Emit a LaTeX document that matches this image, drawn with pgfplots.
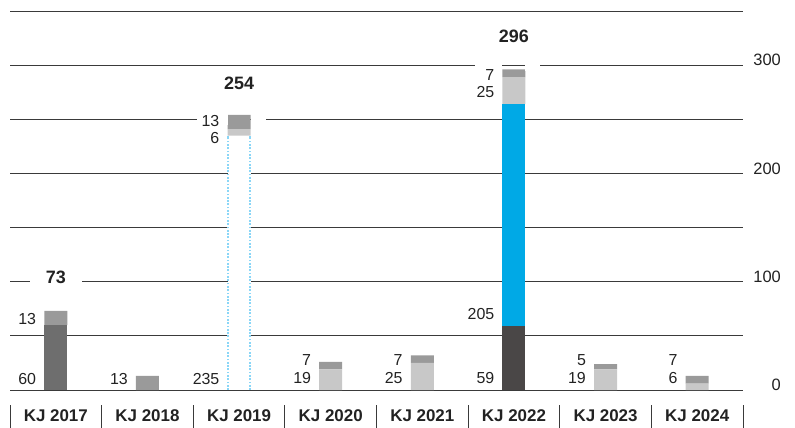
\documentclass[border=0pt]{standalone}
\usepackage{pgfplots}
\pgfplotsset{compat=1.18}
\usepackage{fontspec}
\setmainfont{Liberation Sans}
\definecolor{dkA}{HTML}{6E6E6E}
\definecolor{dkB}{HTML}{4A4747}
\definecolor{grM}{HTML}{9A9A9A}
\definecolor{grL}{HTML}{C8C8C8}
\definecolor{blu}{HTML}{00A9E6}
\definecolor{dotb}{HTML}{8AD6F7}
\definecolor{gridc}{HTML}{3A3A3A}
\definecolor{txt}{HTML}{222222}
\newcommand\vfont{\fontsize{16}{18}\selectfont}
\newcommand\tfont{\fontsize{18}{20}\bfseries\selectfont}
\newcommand\vl[2]{\node[anchor=east, inner sep=0pt, font=\vfont, text=txt] at ([xshift=-19.5bp]#1) {#2};}
\begin{document}
\begin{tikzpicture}
\useasboundingbox (-10bp,-38bp) rectangle (785bp,390bp);
\begin{axis}[
  at={(0,0)}, anchor=south west,
  scale only axis, width=733bp, height=379bp,
  xmin=-0.5, xmax=7.5, ymin=0, ymax=350,
  ybar stacked, bar width=23bp,
  axis line style={draw=none},
  major tick length=0pt, minor tick length=0pt,
  ytick={0,100,200,300}, minor ytick={50,150,250,350},
  ymajorgrids, yminorgrids,
  major grid style={gridc, line width=0.9bp},
  minor grid style={gridc, line width=0.9bp},
  yticklabel pos=right,
  yticklabel style={anchor=east, inner sep=0pt, xshift=38bp, yshift=5bp, font=\fontsize{16.5}{18}\selectfont, text=txt},
  xtick={0,...,7},
  xticklabels={KJ 2017,KJ 2018,KJ 2019,KJ 2020,KJ 2021,KJ 2022,KJ 2023,KJ 2024},
  xticklabel style={anchor=center, inner sep=0pt, yshift=-26bp, font=\fontsize{17}{19}\bfseries\selectfont, text=txt},
  /pgf/number format/assume math mode=true,
  clip=false,
]
\addplot[fill=dkA, draw=none] coordinates {(0,60)(1,0)(2,0)(3,0)(4,0)(5,0)(6,0)(7,0)};
\addplot[fill=dkB, draw=none] coordinates {(0,0)(1,0)(2,0)(3,0)(4,0)(5,59)(6,0)(7,0)};
\addplot[fill=white, draw=none] coordinates {(0,0)(1,0)(2,235)(3,0)(4,0)(5,0)(6,0)(7,0)};
\addplot[fill=blu, draw=none] coordinates {(0,0)(1,0)(2,0)(3,0)(4,0)(5,205)(6,0)(7,0)};
\addplot[fill=grL, draw=none] coordinates {(0,0)(1,0)(2,6)(3,19)(4,25)(5,25)(6,19)(7,6)};
\addplot[fill=grM, draw=none] coordinates {(0,13)(1,13)(2,13)(3,7)(4,7)(5,7)(6,5)(7,7)};

% reference points for masks, outline and labels
\coordinate (m1a) at (axis cs:-0.282,95);  \coordinate (m1b) at (axis cs:0.286,110);
\coordinate (m2a) at (axis cs:1.54,245);   \coordinate (m2b) at (axis cs:1.8745,258);
\coordinate (m2c) at (axis cs:2.1255,245); \coordinate (m2d) at (axis cs:2.29,258);
\coordinate (m3a) at (axis cs:4.575,295);  \coordinate (m3b) at (axis cs:4.8745,305);
\coordinate (m3c) at (axis cs:5.1255,295); \coordinate (m3d) at (axis cs:5.284,305);
\coordinate (d0) at (axis cs:2,0); \coordinate (d1) at (axis cs:2,235);
\coordinate (a1) at (axis cs:0,10.6);  \coordinate (a2) at (axis cs:0,65.5);
\coordinate (b1) at (axis cs:1,10.6);
\coordinate (c1) at (axis cs:2,10.6);  \coordinate (c2) at (axis cs:2,248); \coordinate (c3) at (axis cs:2,232.4);
\coordinate (e1) at (axis cs:3,28);    \coordinate (e2) at (axis cs:3,11.5);
\coordinate (f1) at (axis cs:4,28);    \coordinate (f2) at (axis cs:4,11.5);
\coordinate (g1) at (axis cs:5,291.3); \coordinate (g2) at (axis cs:5,275.6); \coordinate (g3) at (axis cs:5,70); \coordinate (g4) at (axis cs:5,11);
\coordinate (h1) at (axis cs:6,28);    \coordinate (h2) at (axis cs:6,11.5);
\coordinate (i1) at (axis cs:7,28);    \coordinate (i2) at (axis cs:7,11.5);
\coordinate (t1) at (axis cs:0,103.9); \coordinate (t2) at (axis cs:2,283.5); \coordinate (t3) at (axis cs:5,326.8);
\end{axis}
% masks on grid lines
\fill[white] (m1a) rectangle (m1b);
\fill[white] (m2a) rectangle (m2b);
\fill[white] (m2c) rectangle (m2d);
\fill[white] (m3a) rectangle (m3b);
\fill[white] (m3c) rectangle (m3d);
% dotted outline of the 2019 bar
\draw[dotb, line width=2bp, dash pattern=on 1.7bp off 1.6bp] ([xshift=-11bp]d0) -- ([xshift=-11bp]d1);
\draw[dotb, line width=2bp, dash pattern=on 1.7bp off 1.6bp] ([xshift=10.5bp]d0) -- ([xshift=10.5bp]d1);
% value labels
\vl{a1}{60} \vl{a2}{13}
\vl{b1}{13}
\vl{c1}{235} \vl{c2}{13} \vl{c3}{6}
\vl{e1}{7} \vl{e2}{19}
\vl{f1}{7} \vl{f2}{25}
\vl{g1}{7} \vl{g2}{25} \vl{g3}{205} \vl{g4}{59}
\vl{h1}{5} \vl{h2}{19}
\vl{i1}{7} \vl{i2}{6}
% totals
\node[font=\tfont, text=txt, inner sep=0pt] at (t1) {73};
\node[font=\tfont, text=txt, inner sep=0pt] at (t2) {254};
\node[font=\tfont, text=txt, inner sep=0pt] at (t3) {296};
\foreach \k in {0,...,8} \draw[gridc, line width=1bp] (\k*91.625bp,-15bp) -- (\k*91.625bp,-38bp);
\end{tikzpicture}
\end{document}
